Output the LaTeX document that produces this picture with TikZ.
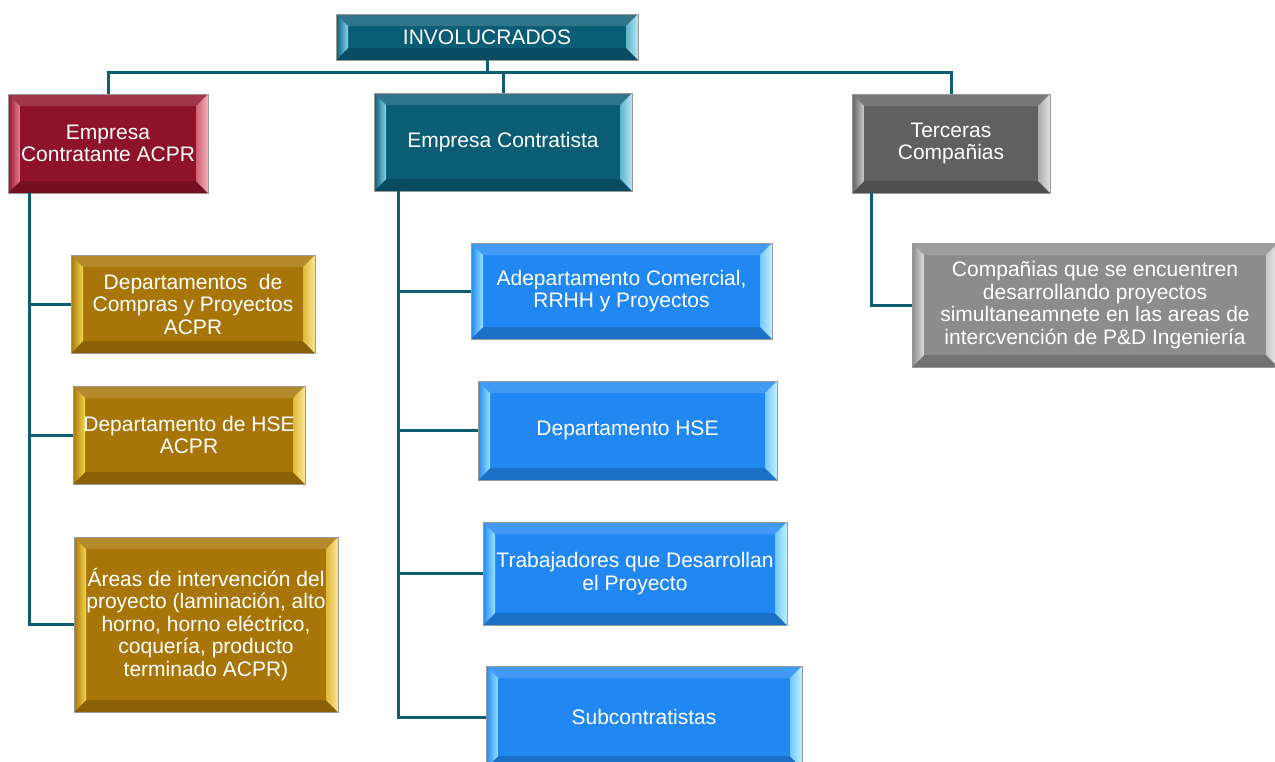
\documentclass[tikz,border=0pt]{standalone}
\usepackage{fontspec}
\setmainfont{Liberation Sans}
\usetikzlibrary{calc}
\def\boxfont{\fontsize{21}{22.5}\selectfont}
\definecolor{invteal}{RGB}{11,92,117}
\definecolor{invlight}{RGB}{130,215,238}
\definecolor{acprred}{RGB}{142,19,42}
\definecolor{acprlight}{RGB}{236,128,146}
\definecolor{acprgold}{RGB}{168,118,8}
\definecolor{goldlight}{RGB}{246,214,80}
\definecolor{contrblue}{RGB}{33,136,243}
\definecolor{bluelight}{RGB}{150,228,255}
\definecolor{tercgray}{RGB}{96,96,96}
\definecolor{tercgrlight}{RGB}{205,205,205}
\definecolor{compgray}{RGB}{140,140,140}
\definecolor{compgrlight}{RGB}{222,222,222}
\definecolor{lineteal}{RGB}{14,92,112}

\begin{document}
\begin{tikzpicture}[x=1pt, y=-1pt,
  box/.style={draw=black!40, line width=0.8pt, inner sep=0pt, text=white,
    align=center, font=\boxfont},
  bevel/.style n args={3}{fill=#1, path picture={
    \coordinate (bsw) at (path picture bounding box.south west);
    \coordinate (bse) at (path picture bounding box.south east);
    \coordinate (bnw) at (path picture bounding box.north west);
    \coordinate (bne) at (path picture bounding box.north east);
    \fill[#1!85!white] (bnw) -- (bne) -- ($(bne)+(-12pt,-12pt)$) -- ($(bnw)+(12pt,-12pt)$) -- cycle;
    \fill[#1!82!black] (bsw) -- (bse) -- ($(bse)+(-12pt,12pt)$) -- ($(bsw)+(12pt,12pt)$) -- cycle;
    \shade[left color=#1, right color=#2] (bsw) -- (bnw) -- ($(bnw)+(12pt,-12pt)$) -- ($(bsw)+(12pt,12pt)$) -- cycle;
    \shade[left color=#2!70!#1, right color=#3] (bse) -- (bne) -- ($(bne)+(-12pt,-12pt)$) -- ($(bse)+(-12pt,12pt)$) -- cycle;
  }},
  conn/.style={draw=lineteal, line width=3pt}]
  %%%%% START %%%%%

  \fill[white] (0,0) rectangle (1275,761);
  \useasboundingbox (0,0) rectangle (1275,761);

  % level 0 and 1
  \node[box, bevel={invteal}{invlight}{invlight!60!white}, minimum width=302, minimum height=46] (invol) at (487,37) {INVOLUCRADOS};
  \node[box, bevel={acprred}{acprlight}{acprlight!60!white}, minimum width=200, minimum height=99] (contratante) at (108,143.5) {Empresa\\Contratante ACPR};
  \node[box, bevel={invteal}{invlight}{invlight!60!white}, minimum width=258, minimum height=98] (contratista) at (503,142) {Empresa Contratista};
  \node[box, bevel={tercgray}{tercgrlight}{tercgrlight!60!white}, minimum width=198, minimum height=99] (terceras) at (951,143.5) {Terceras\\Compañias};

  % ACPR
  \node[box, bevel={acprgold}{goldlight}{goldlight!60!white}, minimum width=244, minimum height=98] (compras) at (193,304) {Departamentos~ de\\Compras y Proyectos\\ACPR};
  \node[box, bevel={acprgold}{goldlight}{goldlight!60!white}, minimum width=232, minimum height=98] (hseacpr) at (189,435) {Departamento de HSE\\ACPR};
  \node[box, bevel={acprgold}{goldlight}{goldlight!60!white}, minimum width=264, minimum height=175] (areas) at (206,624.5) {Áreas de intervención del\\proyecto (laminación, alto\\horno, horno eléctrico,\\coquería, producto\\terminado ACPR)};

  % contratista
  \node[box, bevel={contrblue}{bluelight}{bluelight!60!white}, minimum width=301, minimum height=96] (comercial) at (621.5,291) {Adepartamento Comercial,\\RRHH y Proyectos};
  \node[box, bevel={contrblue}{bluelight}{bluelight!60!white}, minimum width=299, minimum height=99] (hse) at (627.5,430.5) {Departamento HSE};
  \node[box, bevel={contrblue}{bluelight}{bluelight!60!white}, minimum width=304, minimum height=103] (trabajadores) at (635,573.5) {Trabajadores que Desarrollan\\el Proyecto};
  \node[box, bevel={contrblue}{bluelight}{bluelight!60!white}, minimum width=316, minimum height=102] (subcontratistas) at (644,717) {Subcontratistas};

  % terceras
  \node[box, bevel={compgray}{compgrlight}{compgrlight!60!white}, minimum width=366, minimum height=124] (companias) at (1095,305) {Compañias que se encuentren\\desarrollando proyectos\\simultaneamnete en las areas de\\intercvención de P\&D Ingeniería};

  % connectors
  \coordinate (bus) at (487,72);
  \draw[conn] (invol.south) -- (bus) -| (contratante.north);
  \draw[conn] (bus) -| (contratista.north);
  \draw[conn] (bus) -| (terceras.north);

  \draw[conn] ([xshift=22pt]contratante.south west) |- (compras.west);
  \draw[conn] ([xshift=22pt]contratante.south west) |- (hseacpr.west);
  \draw[conn] ([xshift=22pt]contratante.south west) |- (areas.west);

  \draw[conn] ([xshift=25pt]contratista.south west) |- (comercial.west);
  \draw[conn] ([xshift=25pt]contratista.south west) |- (hse.west);
  \draw[conn] ([xshift=25pt]contratista.south west) |- (trabajadores.west);
  \draw[conn] ([xshift=25pt]contratista.south west) |- (subcontratistas.west);

  \draw[conn] ([xshift=20pt]terceras.south west) |- (companias.west);

  %%%%% END %%%%%
\end{tikzpicture}
\end{document}
